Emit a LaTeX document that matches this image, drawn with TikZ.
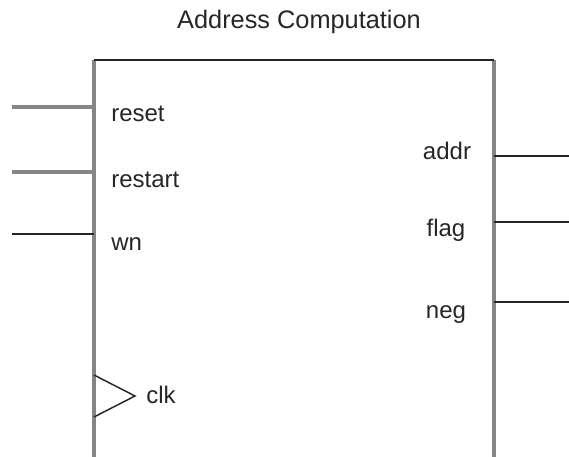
\documentclass[tikz,border=0pt]{standalone}
\usepackage{fontspec}
\setmainfont{Liberation Sans}
\begin{document}
\begin{tikzpicture}[x=0.75pt, y=-0.75pt,
    wire/.style={line width=1.1pt, draw=black!85},
    graywire/.style={line width=2.4pt, draw=black!48},
    portname/.style={inner sep=0pt, font=\fontsize{18}{22}\selectfont, text=black!85}]
    \useasboundingbox (0,0) rectangle (569,457);
    % Block corners
    \coordinate (tl) at (94,60);
    \coordinate (tr) at (494,60);
    \coordinate (bl) at (94,462);
    \coordinate (br) at (494,462);
    % Title
    \node[portname, font=\fontsize{19}{23}\selectfont, anchor=base] (title) at (299,28) {Address Computation};
    % Inputs
    \coordinate (reset-in) at (12,107);
    \coordinate (reset-pin) at (94,107);
    \coordinate (restart-in) at (12,172);
    \coordinate (restart-pin) at (94,172);
    \coordinate (wn-in) at (12,234);
    \coordinate (wn-pin) at (94,234);
    \node[portname, anchor=base west] (reset) at (111,121) {reset};
    \node[portname, anchor=base west] (restart) at (111,187) {restart};
    \node[portname, anchor=base west] (wn) at (111,250) {wn};
    % Outputs
    \coordinate (addr-pin) at (494,156);
    \coordinate (addr-out) at (571,156);
    \coordinate (flag-pin) at (494,222);
    \coordinate (flag-out) at (571,222);
    \coordinate (neg-pin) at (494,302);
    \coordinate (neg-out) at (571,302);
    \node[portname, anchor=base] (addr) at (447,159) {addr};
    \node[portname, anchor=base] (flag) at (446,236) {flag};
    \node[portname, anchor=base] (neg) at (446,318) {neg};
    % Clock
    \coordinate (clk-top) at (94,375);
    \coordinate (clk-tip) at (135,396);
    \coordinate (clk-bot) at (94,417);
    \node[portname, anchor=base west] (clk) at (146,403) {clk};
    % Edges
    \draw[graywire] (tl) -- (bl);
    \draw[graywire] (tr) -- (br);
    \draw[wire] (tl) -- (tr);
    \draw[graywire] (reset-in) -- (reset-pin);
    \draw[graywire] (restart-in) -- (restart-pin);
    \draw[wire] (wn-in) -- (wn-pin);
    \draw[wire] (addr-pin) -- (addr-out);
    \draw[wire] (flag-pin) -- (flag-out);
    \draw[wire] (neg-pin) -- (neg-out);
    \draw[wire, line join=miter] (clk-top) -- (clk-tip) -- (clk-bot);
\end{tikzpicture}
\end{document}
